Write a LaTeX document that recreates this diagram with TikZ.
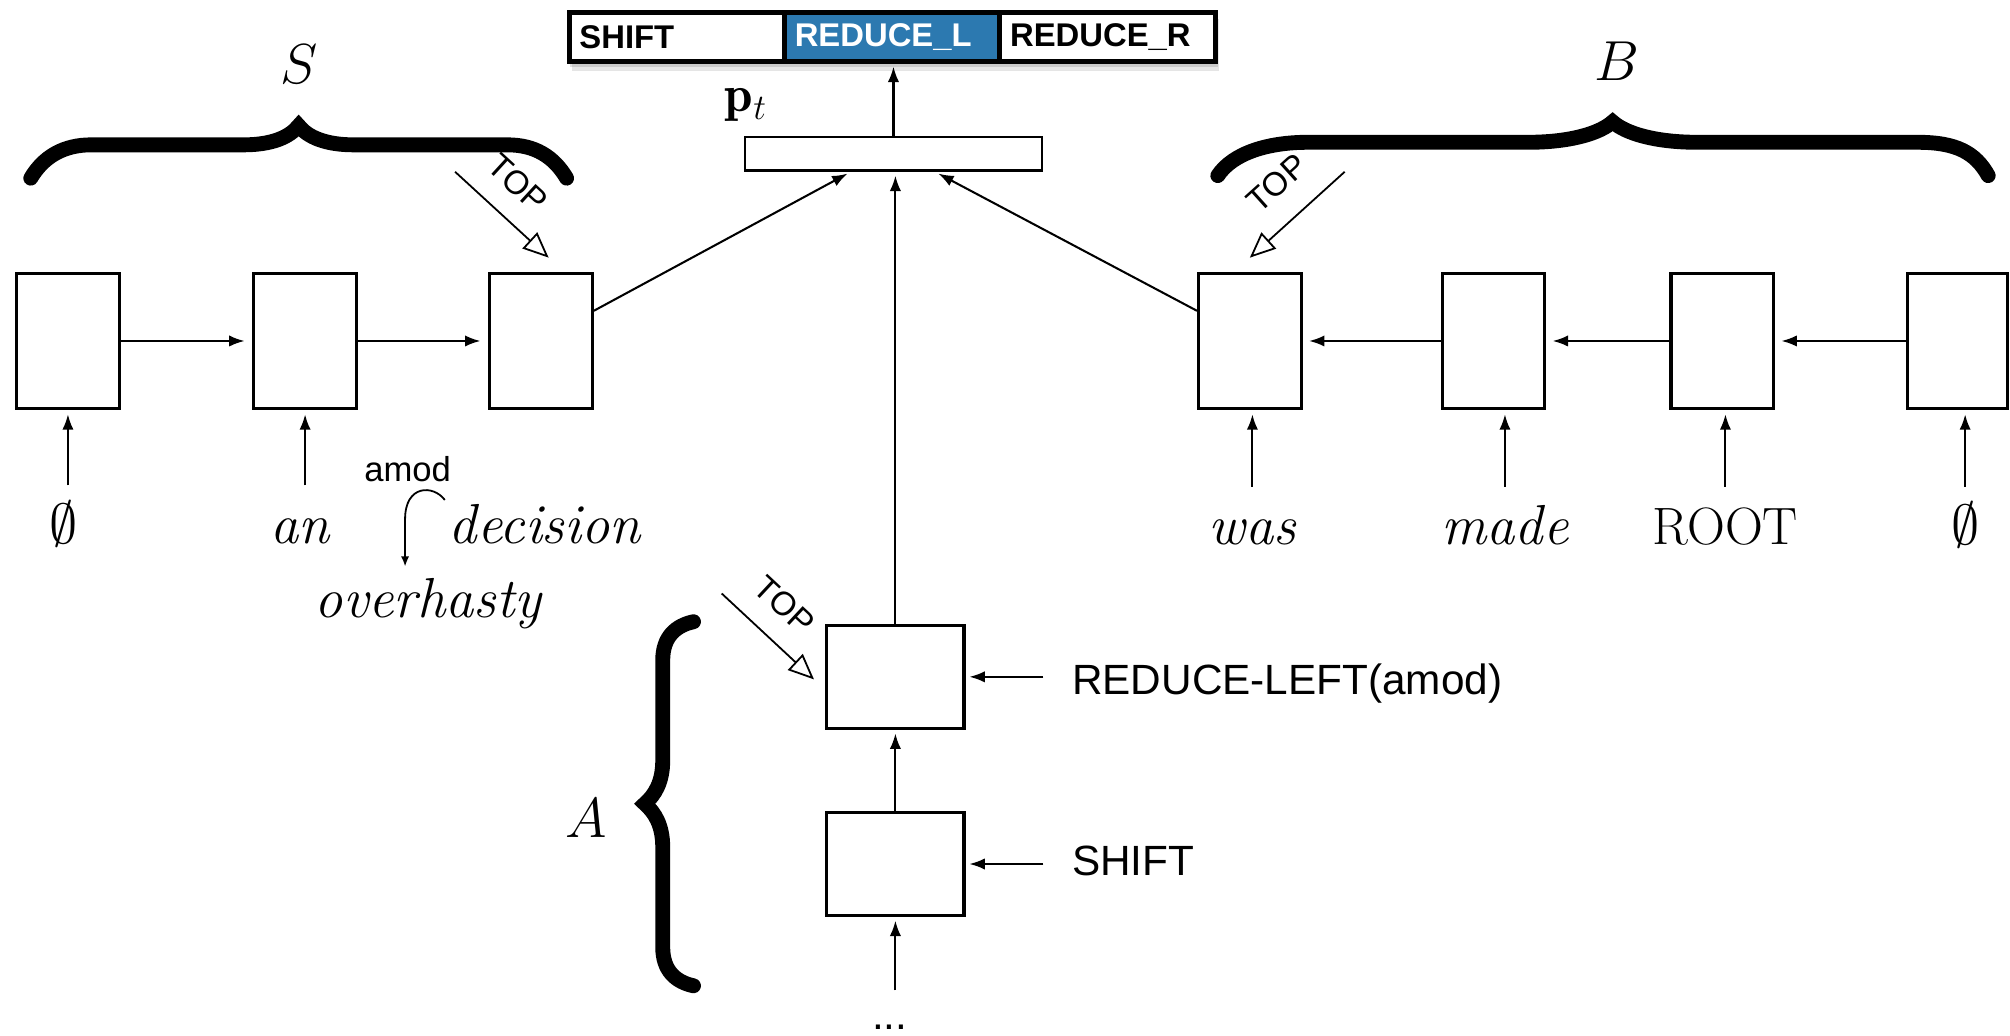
\RequirePackage{fix-cm}
\documentclass[tikz,border=0pt]{standalone}
\usepackage{fontspec}
\newfontfamily\arialfont{Liberation Sans}
\usetikzlibrary{arrows.meta,calc}
\definecolor{actblue}{RGB}{44,121,176}

\begin{document}
\begin{tikzpicture}[x=0.5pt,y=-0.5pt,
  cell/.style={draw, line width=1.2pt, minimum width=40pt, minimum height=53pt, inner sep=0pt, fill=white},
  acell/.style={cell, minimum width=53.5pt, minimum height=40pt},
  act/.style={draw, line width=2pt, minimum height=19pt, inner xsep=4pt, inner ysep=0pt,
    text width=76pt, align=left, font=\arialfont\bfseries\fontsize{12.8}{14}\selectfont},
  arr/.style={line width=0.8pt, -{Latex[length=6pt,width=4.4pt]}},
  toparr/.style={line width=0.7pt, -{Triangle[open,length=10pt,width=8.5pt,line width=0.7pt]}},
  toplab/.style={font=\arialfont\fontsize{13}{15}\selectfont, inner sep=0pt},
  word/.style={font=\fontsize{22}{26}\selectfont\itshape, inner xsep=0pt, inner ysep=7.5pt,
    text height=15pt, text depth=5pt, anchor=base},
  side/.style={font=\arialfont\fontsize{16.5}{20}\selectfont, inner sep=0pt, anchor=base west},
  setlab/.style={font=\fontsize{22}{26}\selectfont, inner sep=0pt},
  curly/.style={line width=5.8pt, line cap=round, line join=miter}
]
\useasboundingbox (0,0) rectangle (1568,808);

% ---- action distribution bar with soft shadow ----
\fill[black, opacity=0.10] (446,15) rectangle (951,55);
\fill[black, opacity=0.12] (445,12) rectangle (950,52);
\node[act, fill=white] (sh) at (528,29) {SHIFT};
\node[act, fill=actblue, text=white] (rl) at (696,29) {REDUCE\_L};
\node[act, fill=white] (rr) at (864,29) {REDUCE\_R};

% ---- p_t layer ----
\node[draw, line width=1pt, minimum width=116pt, minimum height=13pt, inner sep=0pt, fill=white] (pbox) at (697,120) {};
\node[font=\fontsize{20}{24}\selectfont, inner sep=0pt] (plab) at (582,82) {$\mathbf{p}_t$};
\draw[arr, shorten >=1pt] (pbox.north) -- (pbox.north |- rl.south);

% ---- stack S ----
\node[cell] (s1) at (53,266) {};
\node[cell] (s2) at (238,266) {};
\node[cell] (s3) at (422,266) {};
\draw[arr, shorten >=3pt] (s1.east) -- (s2.west);
\draw[arr, shorten >=3pt] (s2.east) -- (s3.west);

\node[word] (w1) at (50,424) {$\emptyset$};
\node[word] (w2) at (234,424) {an};
\node[word] (w3) at (425,424) {decision};
\node[word] (w4) at (334,482) {overhasty};
\draw[arr, shorten >=1.5pt] (w1.north -| s1.south) -- (s1.south);
\draw[arr, shorten >=1.5pt] (w2.north -| s2.south) -- (s2.south);

% amod composition
\node[font=\arialfont\fontsize{13.5}{16}\selectfont, anchor=base, inner sep=0pt] (amod) at (318,376) {amod};
\coordinate (hk0) at (347,390);
\coordinate (hk1) at (316,442);
\draw[line width=0.7pt, -{Latex[length=4pt,width=3.2pt]}] (hk0) .. controls (338,378) and (316,378) .. (316,405) -- (hk1);

% brace over S
\draw[curly] (24,139) .. controls (34,122) and (50,113) .. (71,113) -- (190,113)
  .. controls (212,113) and (226,107) .. (233,98) .. controls (240,107) and (254,113) .. (276,113)
  -- (396,113) .. controls (417,113) and (432,122) .. (442,139);
\node[setlab] (slab) at (233,50) {$S$};

% TOP of S
\coordinate (st0) at (355,134);
\coordinate (st1) at (428,201);
\draw[toparr] (st0) -- (st1);
\node[toplab, rotate=-42.5] (stl) at (404,143) {TOP};

% ---- buffer B ----
\node[cell] (b1) at (975,266) {};
\node[cell] (b2) at (1165,266) {};
\node[cell] (b3) at (1343.5,266) {};
\node[cell, minimum width=39pt] (b4) at (1527,266) {};
\draw[arr, shorten >=2.5pt] (b2.west) -- (b1.east);
\draw[arr, shorten >=2.5pt] (b3.west) -- (b2.east);
\draw[arr, shorten >=2.5pt] (b4.west) -- (b3.east);

\node[word] (w5) at (977,425) {was};
\node[word] (w6) at (1174,425) {made};
\node[word, font=\fontsize{20.5}{24}\selectfont] (w7) at (1346,425) {ROOT};
\node[word] (w8) at (1533,425) {$\emptyset$};
\draw[arr, shorten >=1.5pt] (w5.north) -- (w5.north |- b1.south);
\draw[arr, shorten >=1.5pt] (w6.north) -- (w6.north |- b2.south);
\draw[arr, shorten >=1.5pt] (w7.north) -- (w7.north |- b3.south);
\draw[arr, shorten >=1.5pt] (w8.north) -- (w8.north |- b4.south);

% brace over B
\draw[curly] (950,137) .. controls (962,119) and (990,111) .. (1020,111) -- (1192,111)
  .. controls (1225,111) and (1248,104) .. (1258,95) .. controls (1268,104) and (1291,111) .. (1324,111)
  -- (1496,111) .. controls (1526,111) and (1541,119) .. (1551,137);
\node[setlab] (blab) at (1261,48) {$B$};

% TOP of B
\coordinate (bt0) at (1049,134);
\coordinate (bt1) at (975,201);
\draw[toparr] (bt0) -- (bt1);
\node[toplab, rotate=42] (btl) at (996,143) {TOP};

% ---- into p_t ----
\draw[arr, shorten >=1.5pt] ($(s3.north east)!0.283!(s3.south east)$) -- ($(pbox.south west)!0.358!(pbox.south east)$);
\draw[arr, shorten >=1.5pt] ($(b1.north west)!0.283!(b1.south west)$) -- ($(pbox.south west)!0.638!(pbox.south east)$);

% ---- action history A ----
\node[acell] (a1) at (698.5,528) {};
\node[acell] (a2) at (698.5,674) {};
\draw[arr, shorten >=1.5pt] (a1.north) -- (a1.north |- pbox.south);
\draw[arr, shorten >=1.5pt] (a2.north) -- (a2.north |- a1.south);

\node[font=\arialfont\fontsize{16.5}{20}\selectfont, anchor=base, inner sep=0pt, text height=15pt] (dots) at (694,803) {...};
\draw[arr, shorten >=1.5pt] (dots.north -| a2.south) -- (a2.south);

\node[side] (l1) at (836,542) {REDUCE-LEFT(amod)};
\node[side] (l2) at (836,683) {SHIFT};
\draw[arr, shorten <=11pt, shorten >=1.5pt] (l1.west |- a1.east) -- (a1.east);
\draw[arr, shorten <=11pt, shorten >=1.5pt] (l2.west |- a2.east) -- (a2.east);

% brace beside A
\draw[curly] (541,485) .. controls (527,488) and (517,497) .. (517,515) -- (517,593)
  .. controls (517,610) and (511,620) .. (503,627) .. controls (511,634) and (517,644) .. (517,661)
  -- (517,739) .. controls (517,757) and (527,766) .. (541,769);
\node[setlab] (alab) at (457,638) {$A$};

% TOP of A
\coordinate (at0) at (563,463);
\coordinate (at1) at (635,530);
\draw[toparr] (at0) -- (at1);
\node[toplab, rotate=-43] (atl) at (612,472) {TOP};

\end{tikzpicture}
\end{document}
